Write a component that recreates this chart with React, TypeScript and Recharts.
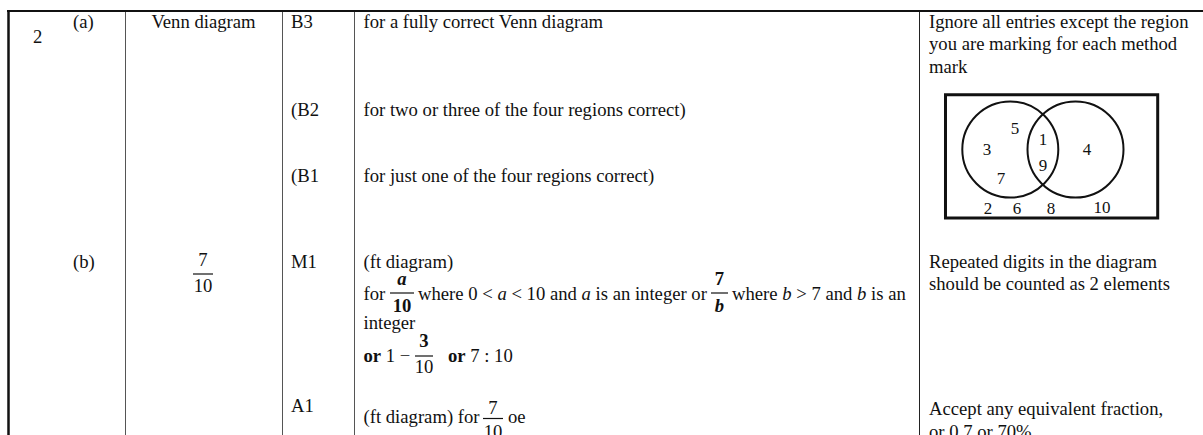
import React from 'react';
import {
  ComposedChart,
  XAxis,
  YAxis,
  ReferenceLine,
  ReferenceArea,
  ReferenceDot,
  Scatter,
  Customized,
} from 'recharts';

const W = 1203;
const H = 435;
const FONT = "'Liberation Serif', 'Times New Roman', serif";
const FS = 18.67;

// Venn diagram contents (element, and the position where it is written)
const vennLabels = ['5', '3', '7', '1', '9', '4', '2', '6', '8', '10'];
const vennX = [1015, 987, 1001, 1043, 1043, 1087, 988, 1017, 1051, 1102];
const vennY = [128, 149, 178, 139, 165, 149, 208, 208, 208, 207];

// Two sets of the Venn diagram
const setNames = ['A', 'B'];
const setCx = [1010.3, 1075.5];
const setCy = [149.5, 149.5];

// Table grid columns
const columnRules = [125.5, 282.5, 354.5, 919.5];

const vennData = vennLabels.map((label, i) => ({ label, x: vennX[i], y: vennY[i] }));

const VennNumber = (props: any) => {
  const { cx, cy, payload } = props;
  if (cx == null || cy == null) return null;
  return (
    <text
      x={cx}
      y={cy + 6}
      textAnchor="middle"
      fontFamily={FONT}
      fontSize={17}
      fill="#111"
    >
      {payload.label}
    </text>
  );
};

const T = ({ x, y, children, anchor = 'start', weight = 'normal', italic = false }: any) => (
  <text
    x={x}
    y={y}
    textAnchor={anchor}
    fontFamily={FONT}
    fontSize={FS}
    fontWeight={weight}
    fontStyle={italic ? 'italic' : 'normal'}
    fill="#111"
  >
    {children}
  </text>
);

const Frac = ({ x1, x2, ly, num, den, nb = 2, nw = 'normal', ni = false, dw = 'normal', di = false, nDy = 8, dDy = 18 }: any) => {
  const cx = (x1 + x2) / 2;
  return (
    <g>
      <line x1={x1} x2={x2} y1={ly} y2={ly} stroke="#111" strokeWidth={1.2} />
      <T x={cx} y={ly - nDy} anchor="middle" weight={nw} italic={ni}>{num}</T>
      <T x={cx} y={ly + dDy} anchor="middle" weight={dw} italic={di}>{den}</T>
    </g>
  );
};

const TableText = () => (
  <g>
    {/* row (a) */}
    <T x={33} y={43}>2</T>
    <T x={73} y={27.5}>(a)</T>
    <T x={203.5} y={27.5} anchor="middle">Venn diagram</T>
    <T x={291} y={27.5}>B3</T>
    <T x={363.5} y={27.5}>for a fully correct Venn diagram</T>
    <T x={929} y={27.5}>Ignore all entries except the region</T>
    <T x={929} y={50}>you are marking for each method</T>
    <T x={929} y={72.5}>mark</T>

    <T x={291} y={116}>(B2</T>
    <T x={363.5} y={116}>for two or three of the four regions correct)</T>
    <T x={291} y={182}>(B1</T>
    <T x={363.5} y={182}>for just one of the four regions correct)</T>

    {/* row (b) */}
    <T x={73} y={268}>(b)</T>
    <Frac x1={193} x2={213} ly={274} num="7" den="10" nDy={8} dDy={17.5} />
    <T x={291} y={268}>M1</T>
    <T x={363.5} y={268}>(ft diagram)</T>

    <T x={363.5} y={300}>for</T>
    <Frac x1={390} x2={414} ly={293} num="a" den="10" nw="bold" ni dw="bold" nDy={8} dDy={18.5} />
    <text x={418} y={300} fontFamily={FONT} fontSize={FS} fill="#111">
      <tspan>where 0 &lt; </tspan>
      <tspan fontStyle="italic">a</tspan>
      <tspan> &lt; 10 and </tspan>
      <tspan fontStyle="italic">a</tspan>
      <tspan> is an integer or</tspan>
    </text>
    <Frac x1={711} x2={728} ly={293} num="7" den="b" nw="bold" dw="bold" di nDy={8} dDy={18.5} />
    <text x={732} y={300} fontFamily={FONT} fontSize={FS} fill="#111">
      <tspan>where </tspan>
      <tspan fontStyle="italic">b</tspan>
      <tspan> &gt; 7 and </tspan>
      <tspan fontStyle="italic">b</tspan>
      <tspan> is an</tspan>
    </text>
    <T x={363.5} y={328.5}>integer</T>

    <text x={363.5} y={362} fontFamily={FONT} fontSize={FS} fill="#111">
      <tspan fontWeight="bold">or</tspan>
      <tspan> 1 − </tspan>
    </text>
    <Frac x1={415} x2={433} ly={356} num="3" den="10" nw="bold" nDy={9} dDy={17} />
    <text x={448} y={362} fontFamily={FONT} fontSize={FS} fill="#111">
      <tspan fontWeight="bold">or</tspan>
      <tspan> 7 : 10</tspan>
    </text>

    <T x={291} y={412}>A1</T>
    <T x={363.5} y={422.5}>(ft diagram) for</T>
    <Frac x1={483} x2={503} ly={418.5} num="7" den="10" nDy={4.5} dDy={19} />
    <T x={508} y={422.5}>oe</T>

    <T x={929} y={267.5}>Repeated digits in the diagram</T>
    <T x={929} y={290}>should be counted as 2 elements</T>
    <T x={929} y={415}>Accept any equivalent fraction,</T>
    <T x={929} y={437.5}>or 0.7 or 70%</T>
  </g>
);

export default function App() {
  return (
    <div style={{ position: 'absolute', left: 0, top: 0, width: W, height: H, background: '#fff', overflow: 'hidden' }}>
      <ComposedChart width={W} height={H} margin={{ top: 0, right: 0, bottom: 0, left: 0 }}>
        <XAxis type="number" dataKey="x" domain={[0, W]} hide allowDataOverflow />
        <YAxis type="number" dataKey="y" domain={[0, H]} reversed hide allowDataOverflow />

        {/* table frame */}
        <ReferenceLine segment={[{ x: 7, y: 11 }, { x: W, y: 11 }]} stroke="#111" strokeWidth={2} ifOverflow="visible" />
        <ReferenceLine segment={[{ x: 8.5, y: 10 }, { x: 8.5, y: H }]} stroke="#111" strokeWidth={2.5} ifOverflow="visible" />
        {columnRules.map((cx) => (
          <ReferenceLine
            key={cx}
            segment={[{ x: cx, y: 12 }, { x: cx, y: H }]}
            stroke={cx > 900 ? '#222' : '#555'}
            strokeWidth={1}
            ifOverflow="visible"
          />
        ))}

        {/* Venn diagram: universal set box and two sets */}
        <ReferenceArea x1={945.5} x2={1157.7} y1={94.7} y2={218} fill="none" stroke="#111" strokeWidth={3} ifOverflow="visible" />
        {setNames.map((name, i) => (
          <ReferenceDot
            key={name}
            x={setCx[i]}
            y={setCy[i]}
            r={48}
            fill="none"
            stroke="#111"
            strokeWidth={2}
            ifOverflow="visible"
          />
        ))}
        <Scatter data={vennData} dataKey="y" shape={VennNumber} isAnimationActive={false} />

        <Customized component={TableText} />
      </ComposedChart>
    </div>
  );
}
